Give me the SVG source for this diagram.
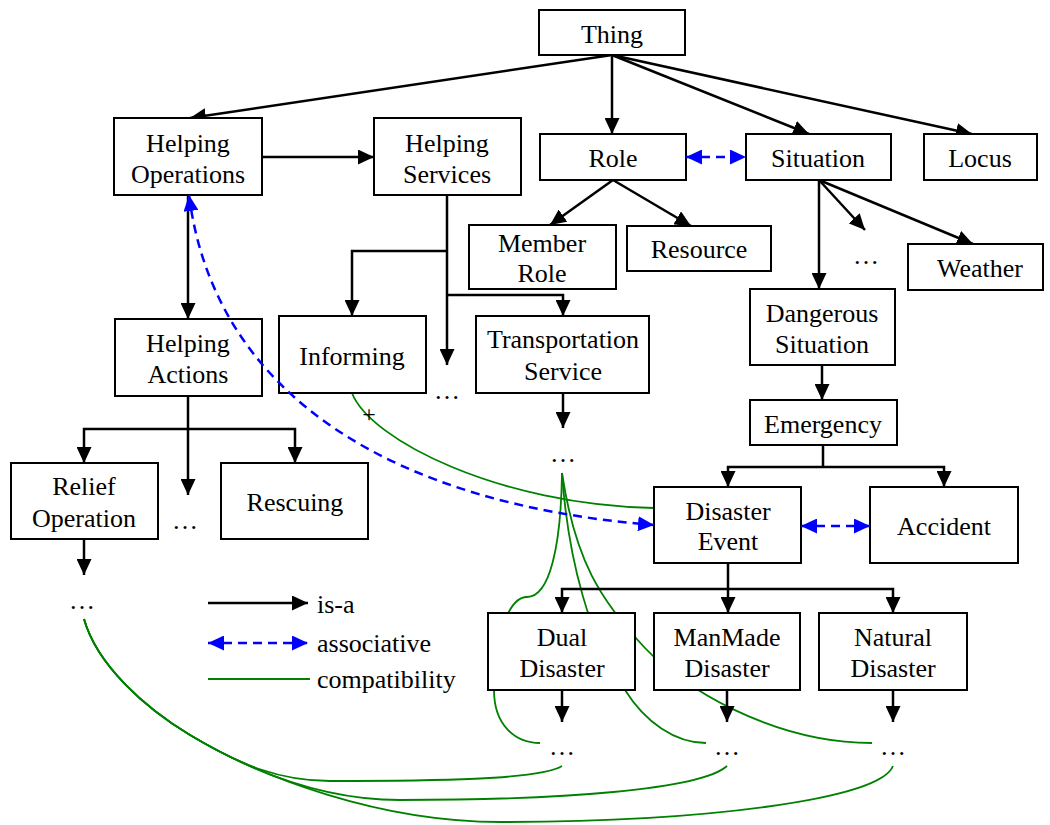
<svg xmlns="http://www.w3.org/2000/svg" width="1050" height="825" viewBox="0 0 1050 825">
  <style>
    .box { fill: #fff; stroke: #000; stroke-width: 2; }
    text { font-family: "Liberation Serif", "Times New Roman", serif; font-size: 26px; fill: #000; text-anchor: middle; }
    .isa { fill: none; stroke: #000; stroke-width: 2.5; marker-end: url(#ah); }
    .line { fill: none; stroke: #000; stroke-width: 2.5; }
    .assoc { fill: none; stroke: #0000ff; stroke-width: 2.5; stroke-dasharray: 9 6; marker-start: url(#bh); marker-end: url(#bh); }
    .compat { fill: none; stroke: #008000; stroke-width: 1.8; }
    .legend { text-anchor: start; }
  </style>
  <defs>
    <marker id="ah" viewBox="0 0 16 15" refX="16" refY="7.5" markerWidth="16" markerHeight="15" markerUnits="userSpaceOnUse" orient="auto">
      <path d="M0,0 L16,7.5 L0,15 z" fill="#000"/>
    </marker>
    <marker id="bh" viewBox="0 0 16 15" refX="16" refY="7.5" markerWidth="16" markerHeight="15" markerUnits="userSpaceOnUse" orient="auto-start-reverse">
      <path d="M0,0 L16,7.5 L0,15 z" fill="#0000ff"/>
    </marker>
  </defs>
  <rect width="1050" height="825" fill="#fff"/>

  <!-- compatibility links (drawn beneath the boxes) -->
  <g id="compatibility">
    <path class="compat" d="M352,393 C370,440 500,505 654,508"/>
    <path class="compat" d="M562,473 C561,545 550,597 527,597 C508,597 494,640 494,690 C494,725 515,743 540,743"/>
    <path class="compat" d="M562,473 C568,560 590,640 625,690 C645,722 675,743 706,743"/>
    <path class="compat" d="M562,473 C575,560 600,600 645,648 C680,685 770,743 872,743"/>
    <path class="compat" d="M84,619 C97,665 145,708 190,735 C240,765 280,781 330,781 C430,781 540,780 562,766"/>
    <path class="compat" d="M84,619 C97,665 145,708 190,735 C250,771 320,800 400,800 C560,800 700,790 727,766"/>
    <path class="compat" d="M84,619 C97,665 145,708 190,735 C262,778 380,822 500,822 C700,822 880,800 893,766"/>
  </g>

  <!-- is-a links -->
  <g id="connectors">
    <path class="isa" d="M612,55 L190,118"/>
    <path class="isa" d="M612,55 L612,134"/>
    <path class="isa" d="M612,55 L809,134"/>
    <path class="isa" d="M612,55 L972,134"/>
    <path class="isa" d="M262,157 L374,157"/>
    <path class="isa" d="M613,180 L550,225"/>
    <path class="isa" d="M613,180 L691,226"/>
    <path class="isa" d="M819,180 L819,289"/>
    <path class="isa" d="M819,180 L865,230"/>
    <path class="isa" d="M819,180 L973,244"/>
    <path class="isa" d="M188,195 L188,319"/>
    <path class="isa" d="M447,195 L447,365"/>
    <path class="isa" d="M447,251 L352,251 L352,316"/>
    <path class="isa" d="M447,295 L563,295 L563,316"/>
    <path class="isa" d="M563,393 L563,428"/>
    <path class="isa" d="M188,396 L188,495"/>
    <path class="isa" d="M188,429 L84,429 L84,463"/>
    <path class="isa" d="M188,429 L295,429 L295,463"/>
    <path class="isa" d="M84,539 L84,575"/>
    <path class="isa" d="M822,365 L822,400"/>
    <path class="line" d="M823,445 L823,467"/>
    <path class="isa" d="M823,467 L728,467 L728,487"/>
    <path class="isa" d="M823,467 L944,467 L944,487"/>
    <path class="line" d="M728,563 L728,589"/>
    <path class="isa" d="M728,589 L562,589 L562,613"/>
    <path class="isa" d="M728,589 L893,589 L893,613"/>
    <path class="isa" d="M728,589 L728,613"/>
    <path class="isa" d="M562,690 L562,722"/>
    <path class="isa" d="M727,690 L727,722"/>
    <path class="isa" d="M893,690 L893,722"/>
  </g>

  <!-- nodes -->
  <g id="thing"><rect class="box" x="539" y="10" width="146" height="45"/><text x="612" y="43">Thing</text></g>
  <g id="helping-operations"><rect class="box" x="114" y="118" width="148" height="77"/><text x="188" y="152">Helping</text><text x="188" y="183">Operations</text></g>
  <g id="helping-services"><rect class="box" x="374" y="118" width="147" height="77"/><text x="447" y="152">Helping</text><text x="447" y="183">Services</text></g>
  <g id="role"><rect class="box" x="540" y="134" width="146" height="46"/><text x="613" y="167">Role</text></g>
  <g id="situation"><rect class="box" x="746" y="134" width="145" height="46"/><text x="818" y="167">Situation</text></g>
  <g id="locus"><rect class="box" x="924" y="134" width="113" height="46"/><text x="980" y="167">Locus</text></g>
  <g id="member-role"><rect class="box" x="469" y="225" width="147" height="64"/><text x="542" y="252">Member</text><text x="542" y="282">Role</text></g>
  <g id="resource"><rect class="box" x="627" y="226" width="144" height="45"/><text x="699" y="258">Resource</text></g>
  <g id="weather"><rect class="box" x="908" y="244" width="135" height="46"/><text x="980" y="277">Weather</text></g>
  <g id="dangerous-situation"><rect class="box" x="750" y="289" width="145" height="76"/><text x="822" y="322">Dangerous</text><text x="822" y="353">Situation</text></g>
  <g id="emergency"><rect class="box" x="750" y="400" width="147" height="45"/><text x="823" y="433">Emergency</text></g>
  <g id="disaster-event"><rect class="box" x="654" y="487" width="147" height="76"/><text x="728" y="520">Disaster</text><text x="728" y="550">Event</text></g>
  <g id="accident"><rect class="box" x="870" y="487" width="148" height="76"/><text x="944" y="535">Accident</text></g>
  <g id="helping-actions"><rect class="box" x="115" y="319" width="147" height="77"/><text x="188" y="352">Helping</text><text x="188" y="383">Actions</text></g>
  <g id="informing"><rect class="box" x="279" y="316" width="147" height="77"/><text x="352" y="365">Informing</text></g>
  <g id="transportation-service"><rect class="box" x="476" y="316" width="173" height="77"/><text x="563" y="348">Transportation</text><text x="563" y="380">Service</text></g>
  <g id="relief-operation"><rect class="box" x="11" y="463" width="147" height="76"/><text x="84" y="495">Relief</text><text x="84" y="527">Operation</text></g>
  <g id="rescuing"><rect class="box" x="221" y="463" width="147" height="76"/><text x="295" y="511">Rescuing</text></g>
  <g id="dual-disaster"><rect class="box" x="488" y="613" width="147" height="77"/><text x="562" y="646">Dual</text><text x="562" y="677">Disaster</text></g>
  <g id="manmade-disaster"><rect class="box" x="654" y="613" width="146" height="77"/><text x="727" y="646">ManMade</text><text x="727" y="677">Disaster</text></g>
  <g id="natural-disaster"><rect class="box" x="819" y="613" width="148" height="77"/><text x="893" y="646">Natural</text><text x="893" y="677">Disaster</text></g>

  <!-- open-ended continuations -->
  <g id="ellipses">
    <text x="866" y="264">…</text>
    <text x="447" y="399">…</text>
    <text x="563" y="462">…</text>
    <text x="185" y="529">…</text>
    <text x="82" y="609">…</text>
    <text x="562" y="755">…</text>
    <text x="727" y="755">…</text>
    <text x="893" y="755">…</text>
  </g>

  <!-- associative links (drawn over the boxes) -->
  <g id="associative">
    <path class="assoc" d="M686,157 L746,157"/>
    <path class="assoc" d="M801,526 L870,526"/>
    <path class="assoc" d="M189,195 C215,400 400,505 654,525"/>
  </g>
  <text x="369" y="422" style="font-size:24px">+</text>

  <!-- legend -->
  <g id="legend">
    <path class="isa" d="M208,603 L308,603"/>
    <path class="assoc" d="M208,643 L308,643"/>
    <path class="compat" d="M208,679 L310,679" style="stroke-width:2"/>
    <text class="legend" x="317" y="613">is-a</text>
    <text class="legend" x="317" y="652">associative</text>
    <text class="legend" x="317" y="688">compatibility</text>
  </g>
</svg>
